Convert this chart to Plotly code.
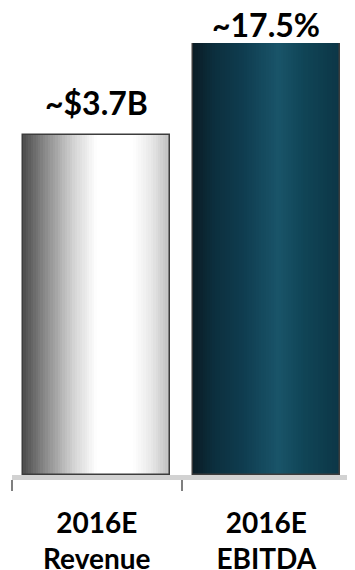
import plotly.graph_objects as go

# ---- data ----
categories = ["2016E<br>Revenue", "2016E<br>EBITDA"]
bar_heights = [78.7, 100.0]          # relative bar heights
value_labels = ["~$3.7B", "~17.5%"]

# gradient stops (fraction across bar, colour)
left_stops = [(0.0, (77, 77, 77)), (0.15, (138, 138, 138)), (0.35, (214, 214, 214)),
              (0.5, (255, 255, 255)), (0.75, (255, 255, 255)), (0.87, (232, 232, 232)),
              (1.0, (190, 190, 190))]
right_stops = [(0.0, (10, 28, 37)), (0.15, (12, 47, 62)), (0.35, (15, 61, 80)),
               (0.58, (25, 84, 105)), (0.75, (16, 69, 87)), (1.0, (12, 54, 70))]


def grad(stops, t):
    for (t0, c0), (t1, c1) in zip(stops[:-1], stops[1:]):
        if t0 <= t <= t1:
            f = (t - t0) / (t1 - t0) if t1 > t0 else 0
            c = [round(a + (b - a) * f) for a, b in zip(c0, c1)]
            return f"rgb({c[0]},{c[1]},{c[2]})"
    c = stops[-1][1]
    return f"rgb({c[0]},{c[1]},{c[2]})"


xpos = list(range(len(categories)))
bw = 0.867
N = 60
fig = go.Figure()
for j in range(N):
    t = (j + 0.5) / N
    fig.add_trace(go.Bar(
        x=xpos, y=bar_heights,
        width=bw / N * 1.08,
        offset=-bw / 2 + j * bw / N,
        marker=dict(color=[grad(left_stops, t), grad(right_stops, t)], line=dict(width=0)),
        hoverinfo="skip", showlegend=False,
    ))

# outline
fig.add_trace(go.Bar(
    x=xpos, y=bar_heights, width=bw,
    marker=dict(color="rgba(0,0,0,0)", line=dict(color="#3c3c3c", width=1.5)),
    showlegend=False,
))

shifts = [12, -2]
for i, (h, lab) in enumerate(zip(bar_heights, value_labels)):
    fig.add_annotation(x=xpos[i], y=h, text=lab, showarrow=False, yanchor="bottom",
                       yshift=shifts[i], borderpad=0,
                       font=dict(family="Lato", size=32, color="#000000", weight="bold"))

# the page body adds an 8px offset, so margins are compensated
fig.update_layout(
    template="none",
    width=355, height=570,
    margin=dict(l=4, r=12, t=35, b=103),
    paper_bgcolor="white", plot_bgcolor="white",
    barmode="overlay", bargap=0,
    xaxis=dict(
        automargin=False,
        range=[-0.5, 1.5], tickvals=xpos, ticktext=categories, ticks="",
        tickfont=dict(family="Lato", size=28, color="#000000", weight="bold"),
        ticklabelstandoff=19,
        showline=True, linecolor="#d2d2d2", linewidth=5,
        showgrid=False, zeroline=False,
        minor=dict(tickvals=[-0.5, 0.5, 1.5], ticks="outside", ticklen=11,
                   tickcolor="#7f7f7f", tickwidth=2, showgrid=False),
        fixedrange=True,
    ),
    yaxis=dict(automargin=False, range=[0, 100], visible=False, fixedrange=True),
)

fig.write_html("out.html")
